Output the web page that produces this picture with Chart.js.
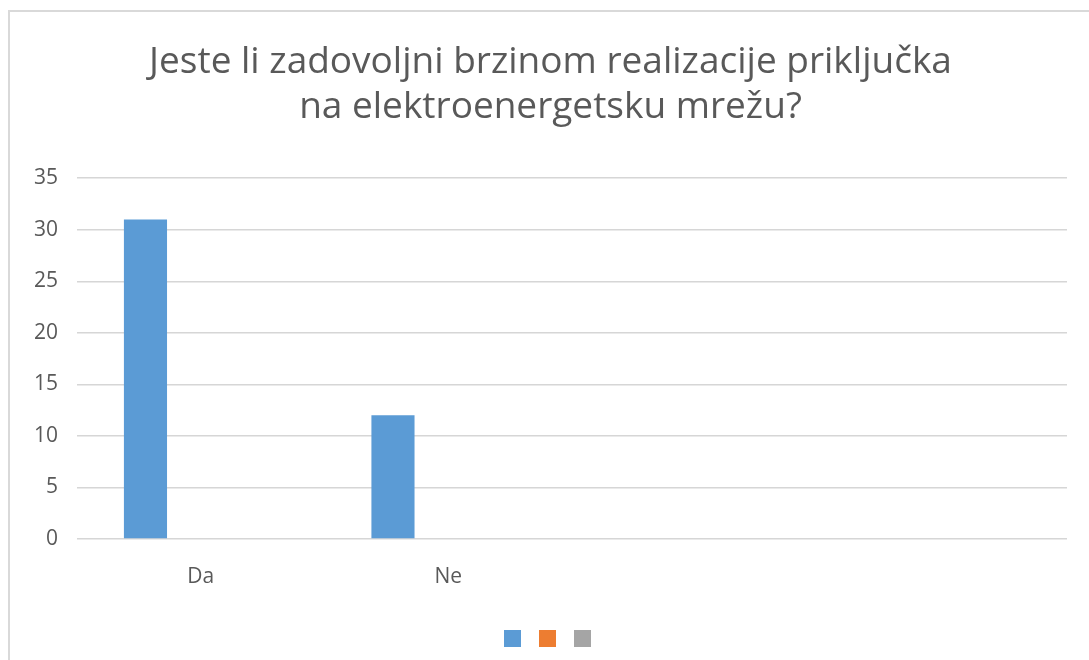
<!DOCTYPE html>
<html>
<head>
<meta charset="utf-8">
<script src="https://cdn.jsdelivr.net/npm/chart.js@4.4.0/dist/chart.umd.min.js"></script>
<style>
  html, body { margin: 0; padding: 0; background: #fff; overflow: hidden; }
  #okvir { position: absolute; left: 8px; top: 10px; width: 1200px; height: 800px; border: 2px solid #d9d9d9; }
  #myChart1 { position: absolute; left: 0; top: 0; }
</style>
</head>
<body>
<div id="okvir"></div>
<canvas id="myChart1" width="1089" height="660"></canvas>
<script>
// podaci
var kategorije = ['Da', 'Ne', '', ''];
var serija1 = [31, 12, null, null];
var serija2 = [null, null, null, null];
var serija3 = [null, null, null, null];
var yTicks = [0, 5, 10, 15, 20, 25, 30, 35];
var naslov = ['Jeste li zadovoljni brzinom realizacije priključka', 'na elektroenergetsku mrežu?'];

var font = "'Open Sans', 'Noto Sans', sans-serif";
var siva = '#595959';

var ctx = document.getElementById('myChart1');
var myChart = new Chart(ctx, {
    type: 'bar',
    data: {
        labels: kategorije,
        datasets: [
            { label: '', data: serija1, backgroundColor: '#5b9bd5' },
            { label: '', data: serija2, backgroundColor: '#ed7d31' },
            { label: '', data: serija3, backgroundColor: '#a5a5a5' }
        ]
    },
    options: {
        responsive: false,
        animation: false,
        devicePixelRatio: 1,
        datasets: { bar: { categoryPercentage: 0.67, barPercentage: 0.78 } },
        layout: { padding: { left: 34, right: 22, top: 0, bottom: 3 } },
        plugins: {
            title: {
                display: true,
                text: naslov,
                color: siva,
                font: { family: font, size: 37, weight: 'normal', lineHeight: 1.22 },
                padding: { top: 40, bottom: 48 }
            },
            legend: {
                position: 'bottom',
                labels: { boxWidth: 17, boxHeight: 17, padding: 12, font: { size: 12 } }
            },
            tooltip: { enabled: false }
        },
        scales: {
            x: {
                afterFit: function (s) { s.height = 79; },
                grid: { display: false, drawTicks: false },
                border: { display: false },
                ticks: { color: siva, padding: 25, font: { family: font, size: 21 } }
            },
            y: {
                min: 0,
                max: 35,
                afterBuildTicks: function (s) { s.ticks = yTicks.map(function (v) { return { value: v }; }); },
                afterFit: function (s) { s.width = 43; },
                grid: { color: '#d6d6d6', lineWidth: 1.6, drawTicks: false },
                border: { display: false },
                ticks: { color: siva, padding: 19, font: { family: font, size: 21 } }
            }
        }
    }
});
</script>
</body>
</html>
